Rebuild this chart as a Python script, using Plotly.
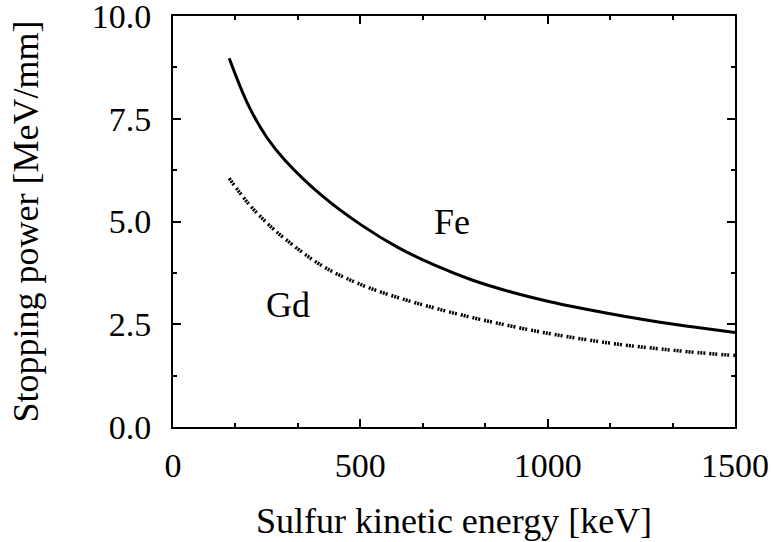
import plotly.graph_objects as go

energy = [150, 200, 250, 300, 400, 500, 600, 700, 800, 900, 1000, 1100, 1200, 1300, 1400, 1500]
fe_power = [8.97, 7.85, 7.05, 6.48, 5.61, 4.93, 4.37, 3.93, 3.57, 3.29, 3.06, 2.87, 2.70, 2.55, 2.42, 2.30]
gd_power = [6.05, 5.45, 4.97, 4.57, 3.91, 3.47, 3.15, 2.89, 2.66, 2.46, 2.28, 2.13, 2.00, 1.90, 1.81, 1.74]

labels = ["Fe", "Gd"]
label_x = [745, 307]
label_y = [4.98, 2.97]

x_ticks = [0, 500, 1000, 1500]
y_ticks = [0.0, 2.5, 5.0, 7.5, 10.0]
y_tick_text = ["0.0", "2.5", "5.0", "7.5", "10.0"]

FONT = "Liberation Serif, Times New Roman, serif"
FS = 36
TFS = 34

fig = go.Figure()
fig.add_trace(go.Scatter(x=energy, y=fe_power, mode="lines", line=dict(color="black", width=3, shape="spline"), showlegend=False))
fig.add_trace(go.Scatter(x=energy, y=gd_power, mode="lines", line=dict(color="black", width=3.5, shape="spline", dash="2px,1px,2px,1px,2px,4px"), showlegend=False))

for t, x, y in zip(labels, label_x, label_y):
    fig.add_annotation(x=x, y=y, text=t, showarrow=False, font=dict(family=FONT, size=FS, color="black"))

axis_common = dict(showline=True, linecolor="black", linewidth=2, mirror="ticks", ticks="inside",
                   tickcolor="black", tickwidth=1.5, ticklen=8, showgrid=False, zeroline=False,
                   ticklabeloverflow="allow", automargin=False,
                   tickfont=dict(family=FONT, size=TFS, color="black"),
                   title_font=dict(family=FONT, size=FS, color="black"))

fig.update_xaxes(range=[0, 1500], tickvals=x_ticks, ticktext=[str(v) for v in x_ticks],
                 title_text="Sulfur kinetic energy [keV]", title_standoff=25, ticklabelstandoff=7,
                 minor=dict(tickmode="linear", tick0=0, dtick=500/3, ticklen=4, tickcolor="black", ticks="inside", tickwidth=1.5),
                 **axis_common)
fig.update_yaxes(range=[0, 10], tickvals=y_ticks, ticktext=y_tick_text,
                 title_text="Stopping power [MeV/mm]", title_standoff=42, ticklabelstandoff=13,
                 minor=dict(tickmode="linear", tick0=0, dtick=1.25, ticklen=4, tickcolor="black", ticks="inside", tickwidth=1.5),
                 **axis_common)

fig.update_layout(width=781, height=542, margin=dict(l=173, r=46, t=16, b=115),
                  plot_bgcolor="white", paper_bgcolor="white",
                  font=dict(family=FONT, size=FS, color="black"))

fig.write_html("out.html")
